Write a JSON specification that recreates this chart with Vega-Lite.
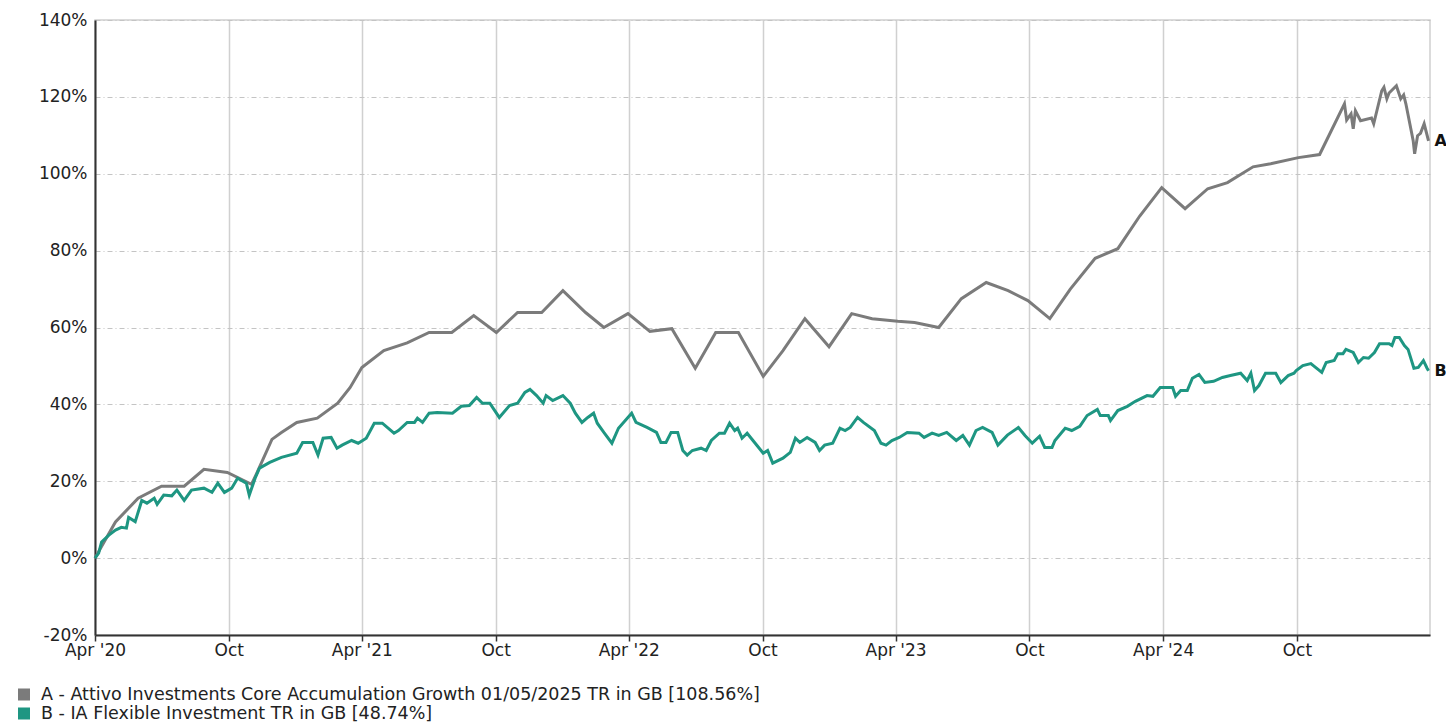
{
  "$schema": "https://vega.github.io/schema/vega-lite/v6.json",
  "autosize": {"type": "none"},
  "padding": {"left": 95, "top": 20, "right": 16, "bottom": 89},
  "width": 1335,
  "height": 615,
  "background": "white",
  "config": {
    "font": "DejaVu Sans",
    "view": {"stroke": "#cfcfcf", "strokeWidth": 1.5}
  },
  "datasets": {
    "ends": [
      {"s": "A", "d": "2025-03-30", "v": 108.56},
      {"s": "B", "d": "2025-03-30", "v": 48.74}
    ],
    "series": [
      {"s":"A","d":"2020-04-01","v":0},{"s":"A","d":"2020-04-15","v":4.7},{"s":"A","d":"2020-04-29","v":9.4},{"s":"A","d":"2020-05-30","v":15.6},{"s":"A","d":"2020-07-01","v":18.7},{"s":"A","d":"2020-08-01","v":18.7},{"s":"A","d":"2020-08-28","v":23.1},{"s":"A","d":"2020-09-29","v":22.3},{"s":"A","d":"2020-11-01","v":19.2},{"s":"A","d":"2020-11-08","v":22},{"s":"A","d":"2020-11-29","v":30.9},{"s":"A","d":"2020-12-12","v":32.7},{"s":"A","d":"2021-01-02","v":35.3},{"s":"A","d":"2021-01-30","v":36.4},{"s":"A","d":"2021-02-27","v":40.3},{"s":"A","d":"2021-03-16","v":44.4},{"s":"A","d":"2021-04-01","v":49.6},{"s":"A","d":"2021-05-01","v":54},{"s":"A","d":"2021-06-02","v":56},{"s":"A","d":"2021-07-02","v":58.7},{"s":"A","d":"2021-08-02","v":58.7},{"s":"A","d":"2021-09-01","v":63.1},{"s":"A","d":"2021-10-02","v":58.7},{"s":"A","d":"2021-10-31","v":63.9},{"s":"A","d":"2021-12-03","v":63.9},{"s":"A","d":"2022-01-01","v":69.6},{"s":"A","d":"2022-02-01","v":63.9},{"s":"A","d":"2022-02-26","v":60},{"s":"A","d":"2022-03-31","v":63.6},{"s":"A","d":"2022-04-30","v":59},{"s":"A","d":"2022-05-30","v":59.7},{"s":"A","d":"2022-07-01","v":49.4},{"s":"A","d":"2022-07-29","v":58.7},{"s":"A","d":"2022-08-29","v":58.7},{"s":"A","d":"2022-10-02","v":47.3},{"s":"A","d":"2022-10-29","v":54},{"s":"A","d":"2022-11-28","v":62.3},{"s":"A","d":"2022-12-31","v":55},{"s":"A","d":"2023-01-31","v":63.6},{"s":"A","d":"2023-02-28","v":62.3},{"s":"A","d":"2023-04-04","v":61.6},{"s":"A","d":"2023-04-27","v":61.3},{"s":"A","d":"2023-05-30","v":60},{"s":"A","d":"2023-06-30","v":67.5},{"s":"A","d":"2023-08-03","v":71.7},{"s":"A","d":"2023-09-02","v":69.6},{"s":"A","d":"2023-09-29","v":67},{"s":"A","d":"2023-10-29","v":62.3},{"s":"A","d":"2023-11-26","v":70},{"s":"A","d":"2023-12-30","v":78},{"s":"A","d":"2024-01-30","v":80.5},{"s":"A","d":"2024-02-29","v":89},{"s":"A","d":"2024-03-30","v":96.4},{"s":"A","d":"2024-05-01","v":90.9},{"s":"A","d":"2024-06-01","v":96.1},{"s":"A","d":"2024-06-28","v":97.7},{"s":"A","d":"2024-08-02","v":101.8},{"s":"A","d":"2024-08-26","v":102.6},{"s":"A","d":"2024-10-03","v":104.2},{"s":"A","d":"2024-11-01","v":105},{"s":"A","d":"2024-12-05","v":118.2},{"s":"A","d":"2024-12-08","v":114},{"s":"A","d":"2024-12-14","v":115.6},{"s":"A","d":"2024-12-17","v":111.7},{"s":"A","d":"2024-12-20","v":116.4},{"s":"A","d":"2024-12-27","v":113.8},{"s":"A","d":"2025-01-11","v":114.5},{"s":"A","d":"2025-01-14","v":113},{"s":"A","d":"2025-01-25","v":121.6},{"s":"A","d":"2025-01-28","v":122.5},{"s":"A","d":"2025-02-01","v":119.5},{"s":"A","d":"2025-02-04","v":121},{"s":"A","d":"2025-02-14","v":122.9},{"s":"A","d":"2025-02-20","v":119.5},{"s":"A","d":"2025-02-24","v":120.5},{"s":"A","d":"2025-02-27","v":118.2},{"s":"A","d":"2025-03-09","v":108.6},{"s":"A","d":"2025-03-11","v":105.2},{"s":"A","d":"2025-03-15","v":109.9},{"s":"A","d":"2025-03-19","v":110.5},{"s":"A","d":"2025-03-24","v":113},{"s":"A","d":"2025-03-30","v":108.56},
      {"s":"B","d":"2020-04-01","v":0},{"s":"B","d":"2020-04-06","v":1.3},{"s":"B","d":"2020-04-10","v":4.2},{"s":"B","d":"2020-04-20","v":6},{"s":"B","d":"2020-04-29","v":7.3},{"s":"B","d":"2020-05-07","v":8},{"s":"B","d":"2020-05-14","v":7.8},{"s":"B","d":"2020-05-17","v":10.6},{"s":"B","d":"2020-05-26","v":9.5},{"s":"B","d":"2020-06-04","v":15},{"s":"B","d":"2020-06-11","v":14.3},{"s":"B","d":"2020-06-21","v":15.6},{"s":"B","d":"2020-06-25","v":14},{"s":"B","d":"2020-07-04","v":16.4},{"s":"B","d":"2020-07-15","v":16.2},{"s":"B","d":"2020-07-22","v":17.7},{"s":"B","d":"2020-08-01","v":15},{"s":"B","d":"2020-08-11","v":17.7},{"s":"B","d":"2020-08-28","v":18.2},{"s":"B","d":"2020-09-08","v":17.1},{"s":"B","d":"2020-09-16","v":19.5},{"s":"B","d":"2020-09-25","v":17.1},{"s":"B","d":"2020-10-05","v":18.2},{"s":"B","d":"2020-10-13","v":20.8},{"s":"B","d":"2020-10-25","v":19.5},{"s":"B","d":"2020-10-29","v":16.4},{"s":"B","d":"2020-11-06","v":20.8},{"s":"B","d":"2020-11-12","v":23.4},{"s":"B","d":"2020-11-26","v":24.9},{"s":"B","d":"2020-12-12","v":26.2},{"s":"B","d":"2021-01-02","v":27.3},{"s":"B","d":"2021-01-10","v":30.1},{"s":"B","d":"2021-01-24","v":30.1},{"s":"B","d":"2021-01-31","v":26.8},{"s":"B","d":"2021-02-07","v":31.2},{"s":"B","d":"2021-02-18","v":31.4},{"s":"B","d":"2021-02-26","v":28.6},{"s":"B","d":"2021-03-05","v":29.4},{"s":"B","d":"2021-03-18","v":30.6},{"s":"B","d":"2021-03-27","v":29.9},{"s":"B","d":"2021-04-07","v":31.2},{"s":"B","d":"2021-04-18","v":35.1},{"s":"B","d":"2021-04-29","v":35.1},{"s":"B","d":"2021-05-15","v":32.5},{"s":"B","d":"2021-05-21","v":33.2},{"s":"B","d":"2021-06-02","v":35.3},{"s":"B","d":"2021-06-12","v":35.3},{"s":"B","d":"2021-06-16","v":36.4},{"s":"B","d":"2021-06-23","v":35.3},{"s":"B","d":"2021-07-02","v":37.7},{"s":"B","d":"2021-07-13","v":37.9},{"s":"B","d":"2021-08-03","v":37.7},{"s":"B","d":"2021-08-15","v":39.5},{"s":"B","d":"2021-08-26","v":39.7},{"s":"B","d":"2021-09-05","v":41.8},{"s":"B","d":"2021-09-13","v":40.3},{"s":"B","d":"2021-09-23","v":40.3},{"s":"B","d":"2021-10-06","v":36.6},{"s":"B","d":"2021-10-20","v":39.7},{"s":"B","d":"2021-10-31","v":40.3},{"s":"B","d":"2021-11-10","v":43.1},{"s":"B","d":"2021-11-17","v":43.9},{"s":"B","d":"2021-11-26","v":42.3},{"s":"B","d":"2021-12-05","v":40.3},{"s":"B","d":"2021-12-09","v":42.3},{"s":"B","d":"2021-12-18","v":41},{"s":"B","d":"2022-01-01","v":42.3},{"s":"B","d":"2022-01-11","v":40.3},{"s":"B","d":"2022-01-18","v":37.7},{"s":"B","d":"2022-01-27","v":35.3},{"s":"B","d":"2022-02-04","v":36.6},{"s":"B","d":"2022-02-12","v":37.7},{"s":"B","d":"2022-02-17","v":35.1},{"s":"B","d":"2022-02-26","v":32.7},{"s":"B","d":"2022-03-09","v":29.9},{"s":"B","d":"2022-03-18","v":33.8},{"s":"B","d":"2022-04-05","v":37.7},{"s":"B","d":"2022-04-11","v":35.3},{"s":"B","d":"2022-04-26","v":34},{"s":"B","d":"2022-05-09","v":32.7},{"s":"B","d":"2022-05-15","v":30.1},{"s":"B","d":"2022-05-22","v":30.1},{"s":"B","d":"2022-05-29","v":32.7},{"s":"B","d":"2022-06-07","v":32.7},{"s":"B","d":"2022-06-14","v":28},{"s":"B","d":"2022-06-20","v":26.8},{"s":"B","d":"2022-06-27","v":28},{"s":"B","d":"2022-07-09","v":28.6},{"s":"B","d":"2022-07-16","v":28},{"s":"B","d":"2022-07-23","v":30.6},{"s":"B","d":"2022-08-03","v":32.5},{"s":"B","d":"2022-08-10","v":32.5},{"s":"B","d":"2022-08-17","v":35.1},{"s":"B","d":"2022-08-24","v":33.2},{"s":"B","d":"2022-08-28","v":33.8},{"s":"B","d":"2022-09-03","v":31.2},{"s":"B","d":"2022-09-10","v":32.5},{"s":"B","d":"2022-09-21","v":29.9},{"s":"B","d":"2022-10-02","v":27.3},{"s":"B","d":"2022-10-08","v":28},{"s":"B","d":"2022-10-15","v":24.7},{"s":"B","d":"2022-10-29","v":26},{"s":"B","d":"2022-11-08","v":27.5},{"s":"B","d":"2022-11-15","v":31.2},{"s":"B","d":"2022-11-21","v":30.1},{"s":"B","d":"2022-12-01","v":31.4},{"s":"B","d":"2022-12-12","v":30.1},{"s":"B","d":"2022-12-18","v":28},{"s":"B","d":"2022-12-25","v":29.4},{"s":"B","d":"2023-01-05","v":29.9},{"s":"B","d":"2023-01-15","v":33.8},{"s":"B","d":"2023-01-22","v":33.2},{"s":"B","d":"2023-01-29","v":34},{"s":"B","d":"2023-02-08","v":36.6},{"s":"B","d":"2023-02-16","v":35.3},{"s":"B","d":"2023-03-03","v":33.2},{"s":"B","d":"2023-03-12","v":29.9},{"s":"B","d":"2023-03-19","v":29.4},{"s":"B","d":"2023-03-27","v":30.6},{"s":"B","d":"2023-04-06","v":31.4},{"s":"B","d":"2023-04-17","v":32.7},{"s":"B","d":"2023-05-03","v":32.5},{"s":"B","d":"2023-05-10","v":31.4},{"s":"B","d":"2023-05-21","v":32.5},{"s":"B","d":"2023-05-30","v":31.9},{"s":"B","d":"2023-06-10","v":32.7},{"s":"B","d":"2023-06-23","v":30.6},{"s":"B","d":"2023-07-02","v":31.9},{"s":"B","d":"2023-07-11","v":29.4},{"s":"B","d":"2023-07-20","v":33.2},{"s":"B","d":"2023-07-29","v":34},{"s":"B","d":"2023-08-11","v":32.7},{"s":"B","d":"2023-08-19","v":29.4},{"s":"B","d":"2023-09-01","v":32},{"s":"B","d":"2023-09-16","v":34},{"s":"B","d":"2023-09-25","v":31.9},{"s":"B","d":"2023-10-05","v":29.9},{"s":"B","d":"2023-10-15","v":31.7},{"s":"B","d":"2023-10-22","v":28.8},{"s":"B","d":"2023-11-01","v":28.8},{"s":"B","d":"2023-11-05","v":30.6},{"s":"B","d":"2023-11-19","v":33.8},{"s":"B","d":"2023-11-28","v":33.2},{"s":"B","d":"2023-12-09","v":34.3},{"s":"B","d":"2023-12-19","v":37.1},{"s":"B","d":"2024-01-02","v":38.7},{"s":"B","d":"2024-01-06","v":37.1},{"s":"B","d":"2024-01-17","v":37.1},{"s":"B","d":"2024-01-20","v":35.8},{"s":"B","d":"2024-01-30","v":38.4},{"s":"B","d":"2024-02-12","v":39.5},{"s":"B","d":"2024-02-23","v":40.8},{"s":"B","d":"2024-03-10","v":42.3},{"s":"B","d":"2024-03-18","v":42.1},{"s":"B","d":"2024-03-28","v":44.4},{"s":"B","d":"2024-04-14","v":44.4},{"s":"B","d":"2024-04-18","v":42.1},{"s":"B","d":"2024-04-25","v":43.6},{"s":"B","d":"2024-05-04","v":43.6},{"s":"B","d":"2024-05-11","v":46.8},{"s":"B","d":"2024-05-20","v":47.8},{"s":"B","d":"2024-05-28","v":45.7},{"s":"B","d":"2024-06-09","v":46},{"s":"B","d":"2024-06-21","v":47},{"s":"B","d":"2024-07-02","v":47.5},{"s":"B","d":"2024-07-16","v":48.1},{"s":"B","d":"2024-07-25","v":46.2},{"s":"B","d":"2024-07-30","v":48.1},{"s":"B","d":"2024-08-04","v":43.6},{"s":"B","d":"2024-08-10","v":44.9},{"s":"B","d":"2024-08-19","v":48.1},{"s":"B","d":"2024-09-02","v":48.1},{"s":"B","d":"2024-09-09","v":45.7},{"s":"B","d":"2024-09-19","v":47.5},{"s":"B","d":"2024-09-27","v":48.1},{"s":"B","d":"2024-09-30","v":48.8},{"s":"B","d":"2024-10-09","v":50.1},{"s":"B","d":"2024-10-20","v":50.6},{"s":"B","d":"2024-11-04","v":48.3},{"s":"B","d":"2024-11-10","v":50.9},{"s":"B","d":"2024-11-21","v":51.4},{"s":"B","d":"2024-11-26","v":53.2},{"s":"B","d":"2024-12-03","v":53.2},{"s":"B","d":"2024-12-07","v":54.3},{"s":"B","d":"2024-12-17","v":53.5},{"s":"B","d":"2024-12-24","v":50.9},{"s":"B","d":"2024-12-31","v":52.2},{"s":"B","d":"2025-01-07","v":52},{"s":"B","d":"2025-01-15","v":53.5},{"s":"B","d":"2025-01-22","v":55.8},{"s":"B","d":"2025-02-04","v":55.8},{"s":"B","d":"2025-02-08","v":55.3},{"s":"B","d":"2025-02-12","v":57.4},{"s":"B","d":"2025-02-18","v":57.4},{"s":"B","d":"2025-02-25","v":55.3},{"s":"B","d":"2025-03-02","v":54.3},{"s":"B","d":"2025-03-10","v":49.4},{"s":"B","d":"2025-03-16","v":49.6},{"s":"B","d":"2025-03-23","v":51.4},{"s":"B","d":"2025-03-28","v":49.4},{"s":"B","d":"2025-03-30","v":48.74}
    ]
  },
  "encoding": {
    "x": {
      "field": "d",
      "type": "temporal",
      "scale": {
        "type": "utc",
        "domain": [
          {"year": 2020, "month": "apr", "date": 1, "utc": true},
          {"year": 2025, "month": "apr", "date": 1, "utc": true}
        ]
      },
      "axis": {
        "title": null,
        "values": [
          {"year": 2020, "month": "apr", "date": 1, "utc": true},
          {"year": 2020, "month": "oct", "date": 1, "utc": true},
          {"year": 2021, "month": "apr", "date": 1, "utc": true},
          {"year": 2021, "month": "oct", "date": 1, "utc": true},
          {"year": 2022, "month": "apr", "date": 1, "utc": true},
          {"year": 2022, "month": "oct", "date": 1, "utc": true},
          {"year": 2023, "month": "apr", "date": 1, "utc": true},
          {"year": 2023, "month": "oct", "date": 1, "utc": true},
          {"year": 2024, "month": "apr", "date": 1, "utc": true},
          {"year": 2024, "month": "oct", "date": 1, "utc": true}
        ],
        "labelExpr": "utcFormat(datum.value, '%m') == '04' ? \"Apr '\" + utcFormat(datum.value, '%y') : 'Oct'",
        "labelFontSize": 17,
        "labelColor": "#222",
        "labelPadding": 1,
        "labelFlush": false,
        "labelOverlap": false,
        "grid": true,
        "gridColor": "#d0d0d0",
        "gridWidth": 1.5,
        "domainColor": "#333",
        "domainWidth": 2,
        "tickColor": "#333",
        "tickSize": 6,
        "tickWidth": 1.5
      }
    },
    "y": {
      "field": "v",
      "type": "quantitative",
      "scale": {"domain": [-20, 140], "nice": false, "zero": false},
      "axis": {
        "title": null,
        "values": [-20, 0, 20, 40, 60, 80, 100, 120, 140],
        "labelExpr": "datum.value + '%'",
        "labelFontSize": 17,
        "labelColor": "#222",
        "labelPadding": 8,
        "ticks": false,
        "grid": true,
        "gridColor": "#c4c4c4",
        "gridDash": [5, 3, 1, 3],
        "gridWidth": 1,
        "domainColor": "#333",
        "domainWidth": 2
      }
    }
  },
  "layer": [
    {
      "mark": {"type": "rule", "color": "#222", "strokeDash": [5, 3, 1, 3], "strokeWidth": 1},
      "encoding": {"y": {"datum": 0}, "x": null}
    },
    {
      "data": {"name": "series"},
      "mark": {"type": "line", "strokeWidth": 3, "interpolate": "linear"},
      "encoding": {
        "color": {
          "field": "s",
          "type": "nominal",
          "scale": {"domain": ["A", "B"], "range": ["#7b7b7b", "#1e9682"]},
          "legend": {
            "title": null,
            "orient": "none",
            "legendX": -83,
            "legendY": 665,
            "padding": 0,
            "direction": "vertical",
            "symbolType": "stroke",
            "symbolSize": 144,
            "symbolStrokeWidth": 12,
            "clipHeight": 19,
            "labelFontSize": 17.5,
            "labelColor": "#222",
            "labelOffset": 5,
            "rowPadding": 0,
            "labelLimit": 1000,
            "labelExpr": "datum.value == 'A' ? 'A - Attivo Investments Core Accumulation Growth 01/05/2025 TR in GB [108.56%]' : 'B - IA Flexible Investment TR in GB [48.74%]'"
          }
        }
      }
    },
    {
      "data": {"name": "ends"},
      "mark": {"type": "text", "align": "left", "baseline": "middle", "dx": 6, "fontSize": 16, "fontWeight": "bold", "color": "#111"},
      "encoding": {"text": {"field": "s"}}
    }
  ]
}
